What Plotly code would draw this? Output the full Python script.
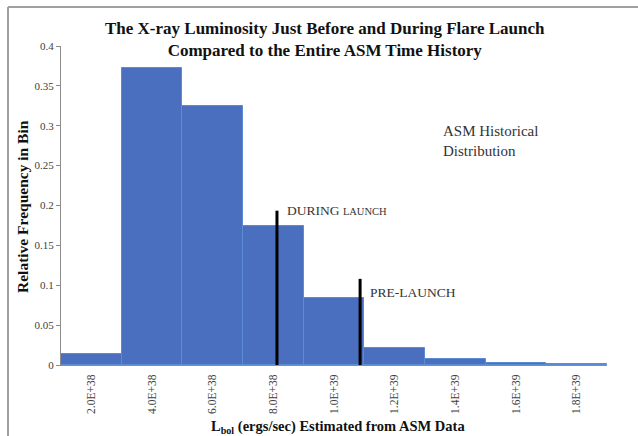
import plotly.graph_objects as go

# Luminosity bins (ergs/sec) and the relative frequency of ASM history in each
bin_centers = [2.0e38, 4.0e38, 6.0e38, 8.0e38, 1.0e39, 1.2e39, 1.4e39, 1.6e39, 1.8e39]
bin_labels = ["2.0E+38", "4.0E+38", "6.0E+38", "8.0E+38", "1.0E+39",
              "1.2E+39", "1.4E+39", "1.6E+39", "1.8E+39"]
rel_freq = [0.014, 0.372, 0.325, 0.174, 0.084, 0.021, 0.008, 0.003, 0.001]
bin_width = 2.0e38

# Luminosity markers for the flare launch epochs
marker_names = ["DURING <span style='font-size:10.5px'>LAUNCH</span>", "PRE-LAUNCH"]
marker_lum = [8.12e38, 1.086e39]
marker_height = [0.1935, 0.108]

y_ticks = [0, 0.05, 0.1, 0.15, 0.2, 0.25, 0.3, 0.35, 0.4]
y_tick_text = ["0", "0.05", "0.1", "0.15", "0.2", "0.25", "0.3", "0.35", "0.4"]

SERIF = "Liberation Serif, Times New Roman, serif"

# Plot-area geometry in pixels
L, R, T, B = 61, 31, 46, 71
PW, PH = 638 - L - R, 436 - T - B


def px_x(x):
    return (x - L) / PW


def px_y(y):
    return (436 - B - y) / PH


fig = go.Figure()
fig.add_trace(go.Bar(
    x=bin_centers, y=rel_freq, width=[bin_width] * len(bin_centers),
    marker=dict(color="#4a6fbe", line=dict(color="#5b8bd4", width=1)),
    showlegend=False, hoverinfo="x+y",
))

for lum, h in zip(marker_lum, marker_height):
    fig.add_trace(go.Scatter(
        x=[lum, lum], y=[0, h], mode="lines",
        line=dict(color="black", width=3), showlegend=False, hoverinfo="skip",
    ))

# Labels beside each marker line (vertical nudge per label, in pixels)
label_yshift = [10, -4]
for name, lum, h, dy in zip(marker_names, marker_lum, marker_height, label_yshift):
    fig.add_annotation(
        x=lum, y=h, xref="x", yref="y", text=name, showarrow=False,
        xanchor="left", yanchor="top", xshift=8, yshift=dy,
        font=dict(family=SERIF, size=13.5, color="#333333"),
    )

fig.add_annotation(
    x=px_x(441), y=px_y(141), xref="paper", yref="paper",
    text="ASM Historical<br>Distribution", showarrow=False, align="left",
    xanchor="left", yanchor="middle",
    font=dict(family=SERIF, size=15, color="#333333"),
)

# Chart title
fig.add_annotation(
    x=px_x(325), y=px_y(39), xref="paper", yref="paper",
    text="<b>The X-ray Luminosity Just Before and During Flare Launch<br>"
         "Compared to the Entire ASM Time History</b>",
    showarrow=False, xanchor="center", yanchor="middle",
    font=dict(family=SERIF, size=17, color="#111111"),
)

# Axis titles
fig.add_annotation(
    x=px_x(338), y=px_y(427), xref="paper", yref="paper",
    text="<b>L<sub>bol</sub> (ergs/sec) Estimated from ASM Data</b>",
    showarrow=False, xanchor="center", yanchor="middle",
    font=dict(family=SERIF, size=14.5, color="#111111"),
)
fig.add_annotation(
    x=px_x(22), y=px_y(207), xref="paper", yref="paper",
    text="<b>Relative Frequency in Bin</b>", textangle=-90,
    showarrow=False, xanchor="center", yanchor="middle",
    font=dict(family=SERIF, size=15.5, color="#111111"),
)

# Outer frame (left and top edges)
fig.add_shape(type="line", xref="paper", yref="paper",
              x0=px_x(8), x1=px_x(8), y0=px_y(7), y1=px_y(460),
              line=dict(color="#a0a0a0", width=2))
fig.add_shape(type="line", xref="paper", yref="paper",
              x0=px_x(8), x1=px_x(660), y0=px_y(7), y1=px_y(7),
              line=dict(color="#a0a0a0", width=2))

fig.update_layout(
    width=638, height=436,
    margin=dict(l=L, r=R, t=T, b=B, autoexpand=False),
    paper_bgcolor="white", plot_bgcolor="white",
    bargap=0,
    font=dict(family=SERIF, color="#404040"),
)
fig.update_xaxes(
    range=[1.0e38, 1.9e39], tickvals=bin_centers, ticktext=bin_labels,
    tickangle=-90, tickfont=dict(family=SERIF, size=11.5, color="#404040"),
    showgrid=False, zeroline=False, showline=True, linecolor="#8c8c8c",
    linewidth=1, ticks="", ticklen=0, automargin=False, ticklabelstandoff=4,
)
fig.update_yaxes(
    range=[0, 0.4], tickvals=y_ticks, ticktext=y_tick_text,
    tickfont=dict(family=SERIF, size=11, color="#404040"),
    showgrid=False, zeroline=False, showline=True, linecolor="#8c8c8c",
    linewidth=1, ticks="outside", ticklen=4, tickcolor="#8c8c8c",
    automargin=False,
)

fig.write_html("out.html")
